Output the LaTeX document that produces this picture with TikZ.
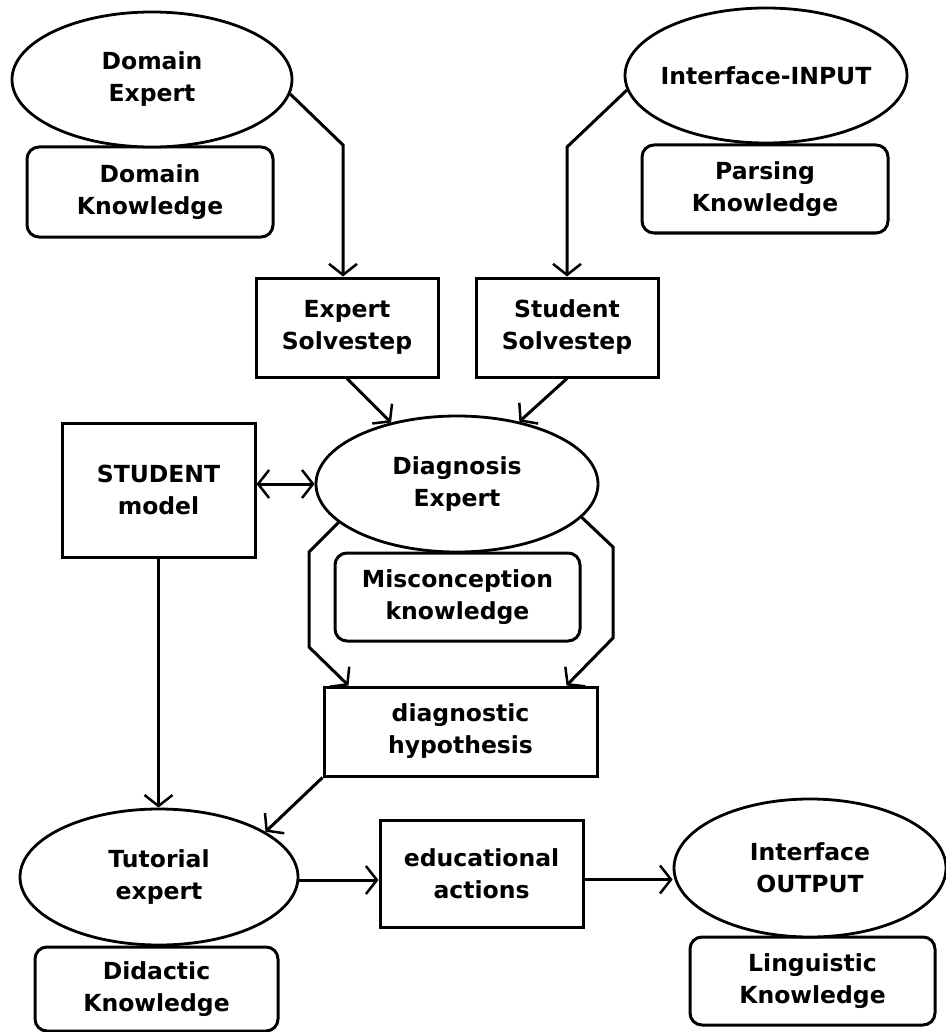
\documentclass[tikz,border=0pt]{standalone}
\usepackage{fontspec}
\setmainfont{DejaVu Sans}
\usetikzlibrary{arrows.meta,shapes.geometric,calc}
\begin{document}
\begin{tikzpicture}[x=1pt,y=-1pt,
  every node/.style={font=\bfseries\fontsize{23.5pt}{32pt}\selectfont, align=center, inner sep=0pt},
  ell/.style={draw, line width=2.8pt, ellipse, inner xsep=-50pt, inner ysep=-15pt, minimum width=280pt, minimum height=135pt},
  kbox/.style={draw, line width=3pt, rounded corners=12pt},
  pbox/.style={draw, line width=3pt},
  conn/.style={line width=3pt},
  tip/.tip={Straight Barb[length=11pt,width=28pt,line width=2.5pt]},
  arr/.style={conn, -tip},
  darr/.style={conn, tip-tip}
]
\useasboundingbox (0,0) rectangle (945,1032);
\fill[white] (0,0) rectangle (945,1032);

% knowledge boxes
\node[kbox, minimum width=246pt, minimum height=90pt] (dk) at (150,192) {Domain\\Knowledge};
\node[kbox, minimum width=246pt, minimum height=88pt] (pk) at (765,189) {Parsing\\Knowledge};
\node[kbox, minimum width=245pt, minimum height=88pt] (mk) at (457.5,597) {Misconception\\knowledge};
\node[kbox, minimum width=243pt, minimum height=84pt] (didk) at (156.5,989) {Didactic\\Knowledge};
\node[kbox, minimum width=245pt, minimum height=88pt] (lk) at (812.5,981) {Linguistic\\Knowledge};

% ellipses (drawn over the knowledge boxes)
\node[ell, fill=white] (de) at (152,79.5) {Domain\\Expert};
\node[ell, fill=white, minimum width=282pt] (ii) at (766,75.5) {Interface-INPUT};
\node[ell, fill=white, minimum width=282pt, minimum height=136pt] (dx) at (457,484) {Diagnosis\\Expert};
\node[ell, fill=white, minimum width=278pt, minimum height=136pt] (tu) at (159,877) {Tutorial\\expert};
\node[ell, fill=white, minimum width=272pt, minimum height=138pt] (io) at (810,868) {Interface\\OUTPUT};

% process boxes
\node[pbox, minimum width=182pt, minimum height=99pt] (es) at (347,327.5) {Expert\\Solvestep};
\node[pbox, minimum width=182pt, minimum height=99pt] (ss) at (567,327.5) {Student\\Solvestep};
\node[pbox, minimum width=193pt, minimum height=134pt] (sm) at (158.5,490) {STUDENT\\model};
\node[pbox, minimum width=273pt, minimum height=89pt] (dh) at (460.5,731.5) {diagnostic\\hypothesis};
\node[pbox, minimum width=203pt, minimum height=107pt] (ea) at (481.5,873.5) {educational\\actions};

% bend points
\coordinate (c1) at (343,145);
\coordinate (c2) at (567,147);
\coordinate (l1) at (309,552);
\coordinate (l2) at (309,647);
\coordinate (r1) at (613,547);
\coordinate (r2) at (613,638);

% connectors
\draw[arr] (de.-6) -- (c1) -- (c1 |- es.north);
\draw[arr] (ii.186) -- (c2) -- (c2 |- ss.north);
\draw[arr] (es.south) -- (dx.137);
\draw[arr] (ss.south) -- (dx.45);
\draw[darr] (sm.east |- dx.west) -- (dx.west);
\draw[arr] (dx.198) -- (l1) -- (l2) -- ([xshift=26pt]dh.north west);
\draw[arr] (dx.-15) -- (r1) -- (r2) -- ([xshift=-32pt]dh.north east);
\draw[arr] (sm.south) -- (sm.south |- tu.north);
\draw[arr] (dh.south west) -- (tu.23);
\draw[arr] ([yshift=-3pt]tu.east) -- ([yshift=-3pt]tu.east -| ea.west);
\draw[arr] ([yshift=-6pt]ea.east) -- ([yshift=-6pt]ea.east -| io.west);
\end{tikzpicture}
\end{document}
